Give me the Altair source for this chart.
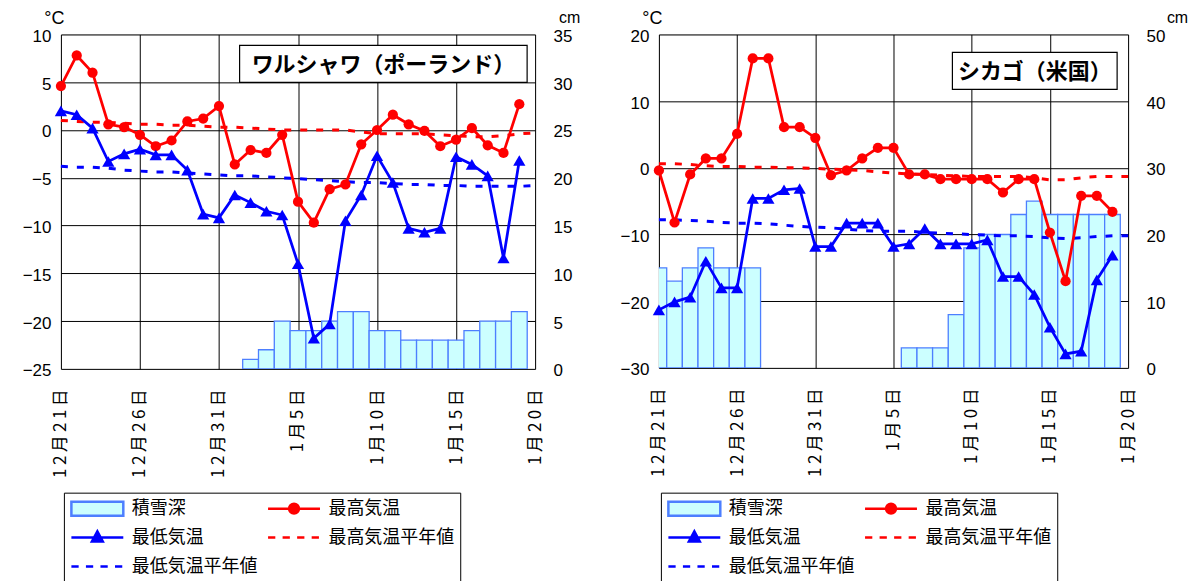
import altair as alt
import pandas as pd

# ---------------- data ----------------
dates = ["12月21日", "12月22日", "12月23日", "12月24日", "12月25日", "12月26日",
         "12月27日", "12月28日", "12月29日", "12月30日", "12月31日",
         "1月1日", "1月2日", "1月3日", "1月4日", "1月5日", "1月6日", "1月7日",
         "1月8日", "1月9日", "1月10日", "1月11日", "1月12日", "1月13日", "1月14日",
         "1月15日", "1月16日", "1月17日", "1月18日", "1月19日", "1月20日"]

# Warsaw (Poland)
waw_max = [4.6, 7.8, 6.0, 0.6, 0.3, -0.5, -1.7, -1.1, 0.9, 1.2, 2.5, -3.6, -2.1, -2.4, -0.5,
           -7.5, -9.7, -6.2, -5.7, -1.5, 0.0, 1.6, 0.6, -0.1, -1.7, -1.0, 0.2, -1.6, -2.4, 2.7]
waw_min = [2.0, 1.6, 0.2, -3.3, -2.5, -2.0, -2.6, -2.6, -4.2, -8.8, -9.2, -6.8, -7.6, -8.5, -8.9,
           -14.0, -21.8, -20.3, -9.5, -6.8, -2.7, -5.5, -10.3, -10.7, -10.3, -2.8, -3.6, -4.8, -13.4, -3.2]
waw_snow = [None, None, None, None, None, None, None, None, None, None, None, None,
            1, 2, 5, 4, 4, 5, 6, 6, 4, 4, 3, 3, 3, 3, 4, 5, 5, 6]
waw_nmax = [1.0, 0.9, 0.8, 0.8, 0.7, 0.6, 0.6, 0.5, 0.5, 0.4, 0.3, 0.3, 0.2, 0.1, 0.0, 0.0,
            0.0, 0.0, 0.0, -0.2, -0.4, -0.4, -0.4, -0.4, -0.5, -0.6, -0.7, -0.7, -0.6, -0.4, -0.3]
waw_nmin = [-3.8, -3.9, -3.9, -4.0, -4.2, -4.3, -4.4, -4.4, -4.5, -4.6, -4.7, -4.8, -4.8, -4.9, -5.0,
            -5.1, -5.2, -5.3, -5.4, -5.5, -5.5, -5.6, -5.7, -5.7, -5.8, -5.8, -5.9, -5.9, -5.9, -5.9, -5.8]

# Chicago (USA)
chi_max = [-0.4, -8.2, -1.0, 1.4, 1.4, 5.1, 16.4, 16.4, 6.1, 6.1, 4.5, -1.1, -0.4, 1.4, 3.0,
           3.0, -1.0, -1.0, -1.7, -1.7, -1.7, -1.7, -3.7, -1.7, -1.7, -9.7, -17.0, -4.2, -4.2, -6.6]
chi_min = [-21.3, -20.1, -19.4, -14.0, -18.0, -18.0, -4.6, -4.6, -3.3, -3.1, -11.8, -11.8, -8.3, -8.3, -8.3,
           -11.8, -11.4, -9.1, -11.4, -11.4, -11.4, -10.8, -16.3, -16.3, -19.0, -23.9, -27.9, -27.5, -16.8, -13.1]
chi_snow = [15, 13, 15, 18, 15, 15, 15, None, None, None, None, None, None, None, None, None,
            3, 3, 3, 8, 18, 20, 20, 23, 25, 23, 23, 23, 23, 23]
chi_nmax = [0.6, 0.6, 0.5, 0.3, 0.2, 0.2, 0.1, 0.1, 0.0, 0.0, -0.1, -0.2, -0.3, -0.4, -0.6, -0.8,
            -0.9, -1.0, -1.1, -1.2, -1.3, -1.3, -1.3, -1.3, -1.5, -1.8, -1.8, -1.5, -1.3, -1.3, -1.3]
chi_nmin = [-7.8, -7.8, -7.9, -8.0, -8.2, -8.3, -8.3, -8.4, -8.6, -8.8, -8.9, -9.0, -9.2, -9.4, -9.5,
            -9.5, -9.5, -9.7, -9.8, -9.9, -10.0, -10.1, -10.2, -10.2, -10.3, -10.5, -10.6, -10.5, -10.3, -10.2, -10.2]

# legend entries (column-major: first column, then second column)
legend_names = ["積雪深", "最低気温", "最低気温平年値", "最高気温", "最高気温平年値"]
legend_fill = ["#CCFFFF", "#0000FF", "#0000FF", "#FF0000", "#FF0000"]
legend_stroke = ["#4D7FFF", "#0000FF", "#0000FF", "#FF0000", "#FF0000"]
legend_paths = [
    "M-1,-0.27H1V0.27H-1Z",
    "M-1,0H1M0,-0.24L0.21,0.15L-0.21,0.15Z",
    "M-1,0H-0.72M-0.44,0H-0.16M0.12,0H0.4M0.68,0H0.96",
    "M-1,0H1M-0.19,0A0.19,0.19,0,1,1,0.19,0A0.19,0.19,0,1,1,-0.19,0Z",
    "M-1,0H-0.72M-0.44,0H-0.16M0.12,0H0.4M0.68,0H0.96",
]

JP = "Noto Sans CJK JP"
NUM = "Liberation Sans"

label_expr = "[" + ",".join("'" + "\u2009".join(d) + "'" for d in dates) + "][datum.value]"


def panel(title, tmax, tmin, nmax, nmin, snow, tdom, tstep, sdom, sstep,
          w, h, box, cm_x, legend_xy):
    n = len(tmax)
    obs = pd.DataFrame({"day": list(range(n)), "tmax": tmax, "tmin": tmin, "snow": snow})
    norm = pd.DataFrame({"day": list(range(len(dates))), "nmax": nmax, "nmin": nmin})

    xscale = alt.Scale(domain=[0, len(dates) - 1], nice=False, zero=False)
    xaxis = alt.Axis(values=list(range(0, len(dates), 5)), labelExpr=label_expr, labelAngle=-90,
                     labelFont=JP, labelFontSize=17, labelPadding=20, labelColor="black",
                     ticks=False, domain=False, grid=True, gridColor="black", gridOpacity=1,
                     gridWidth=1, title=None, labelFlush=False, labelOverlap=False)
    tscale = alt.Scale(domain=tdom, nice=False, zero=False)
    taxis = alt.Axis(values=list(range(tdom[0], tdom[1] + 1, tstep)), orient="left", grid=True,
                     gridColor="black", gridOpacity=1, gridWidth=1, ticks=False, domain=False,
                     labelFont=NUM, labelFontSize=17, labelPadding=10, labelColor="black",
                     labelOffset=2, labelFlush=False, title="°C", titleAngle=0, titleX=-7,
                     titleY=-7, titleAlign="center", titleBaseline="bottom", titleFont=NUM,
                     titleFontSize=18, titleFontWeight="normal", titleColor="black")
    sscale = alt.Scale(domain=sdom, nice=False, zero=True)
    saxis = alt.Axis(values=list(range(sdom[0], sdom[1] + 1, sstep)), orient="right", grid=False,
                     ticks=False, domain=False, labelFont=NUM, labelFontSize=17, labelPadding=18,
                     labelColor="black", labelOffset=2, labelFlush=False, title="cm", titleAngle=0,
                     titleX=cm_x, titleY=-9, titleAlign="center", titleBaseline="bottom",
                     titleFont=NUM, titleFontSize=16, titleFontWeight="normal", titleColor="black")

    bars = alt.Chart(obs).transform_filter("isValid(datum.snow)").transform_calculate(
        x0="datum.day - 0.5", x1="datum.day + 0.5"
    ).mark_bar(fill="#CCFFFF", stroke="#4D7FFF", strokeWidth=1.3, clip=True).encode(
        x=alt.X("x0:Q", scale=xscale, axis=xaxis), x2="x1:Q",
        y=alt.Y("snow:Q", scale=sscale, axis=saxis), y2=alt.datum(0),
    )

    def xe(field):
        return alt.X(field, scale=xscale, axis=xaxis)

    nmax_l = alt.Chart(norm).mark_line(color="#FF0000", strokeWidth=3, strokeDash=[7, 9]).encode(
        x=xe("day:Q"), y=alt.Y("nmax:Q", scale=tscale, axis=taxis))
    nmin_l = alt.Chart(norm).mark_line(color="#0000FF", strokeWidth=3, strokeDash=[7, 9]).encode(
        x=xe("day:Q"), y=alt.Y("nmin:Q", scale=tscale, axis=taxis))
    max_l = alt.Chart(obs).mark_line(color="#FF0000", strokeWidth=2.75).encode(
        x=xe("day:Q"), y=alt.Y("tmax:Q", scale=tscale, axis=taxis))
    max_p = alt.Chart(obs).mark_point(shape="circle", filled=True, size=105, color="#FF0000",
                                      opacity=1).encode(
        x=xe("day:Q"), y=alt.Y("tmax:Q", scale=tscale, axis=taxis))
    min_l = alt.Chart(obs).mark_line(color="#0000FF", strokeWidth=2.75).encode(
        x=xe("day:Q"), y=alt.Y("tmin:Q", scale=tscale, axis=taxis))
    min_p = alt.Chart(obs).mark_point(shape="triangle-up", filled=True, size=150, color="#0000FF",
                                      opacity=1).encode(
        x=xe("day:Q"), y=alt.Y("tmin:Q", scale=tscale, axis=taxis))
    temps = alt.layer(nmax_l, nmin_l, max_l, min_l, max_p, min_p)

    tb = pd.DataFrame({"label": [title]})
    box_rect = alt.Chart(tb).mark_rect(fill="white", stroke="black", strokeWidth=1.2).encode(
        x=alt.value(box[0]), x2=alt.value(box[1]), y=alt.value(box[2]), y2=alt.value(box[3]))
    box_text = alt.Chart(tb).mark_text(font=JP, fontSize=22, fontWeight="bold", color="black").encode(
        x=alt.value((box[0] + box[1]) / 2), y=alt.value((box[2] + box[3]) / 2 + 1), text="label:N")

    leg = alt.Legend(title=None, orient="none", legendX=legend_xy[0], legendY=legend_xy[1],
                     columns=2, columnPadding=9, rowPadding=9, symbolSize=2704,
                     symbolStrokeWidth=2.5, labelFont=JP, labelFontSize=18, labelOffset=7,
                     labelColor="black", labelLimit=0, padding=6, strokeColor="black",
                     fillColor="white", clipHeight=20)
    leg_df = pd.DataFrame({"series": legend_names})
    legend_layer = alt.Chart(leg_df).transform_filter("false").mark_point(
        filled=True, opacity=1).encode(
        fill=alt.Fill("series:N", scale=alt.Scale(domain=legend_names, range=legend_fill), legend=leg),
        stroke=alt.Stroke("series:N", scale=alt.Scale(domain=legend_names, range=legend_stroke), legend=leg),
        shape=alt.Shape("series:N", scale=alt.Scale(domain=legend_names, range=legend_paths), legend=leg),
    )

    return alt.layer(bars, temps, box_rect, box_text, legend_layer).resolve_scale(
        y="independent").properties(width=w, height=h)


left = panel("ワルシャワ（ポーランド）", waw_max, waw_min, waw_nmax, waw_nmin, waw_snow,
             [-25, 10], 5, [0, 35], 5, 475, 335, (179, 467, 11, 48), 34, (3, 459))
right = panel("シカゴ（米国）", chi_max, chi_min, chi_nmax, chi_nmin, chi_snow,
              [-30, 20], 10, [0, 50], 10, 470, 334, (294, 459, 18, 55), 49, (2, 459))

chart = alt.hconcat(left, right, spacing=38).resolve_scale(
    fill="independent", stroke="independent", shape="independent"
).resolve_legend(
    fill="independent", stroke="independent", shape="independent"
).properties(
    padding={"left": 13, "top": 0, "right": 0, "bottom": 0}
).configure_view(
    fill="#FFFFCC", stroke="#404040", strokeWidth=1
).configure(background="white")

chart.save("out.html", embed_options={"renderer": "svg", "actions": False})
